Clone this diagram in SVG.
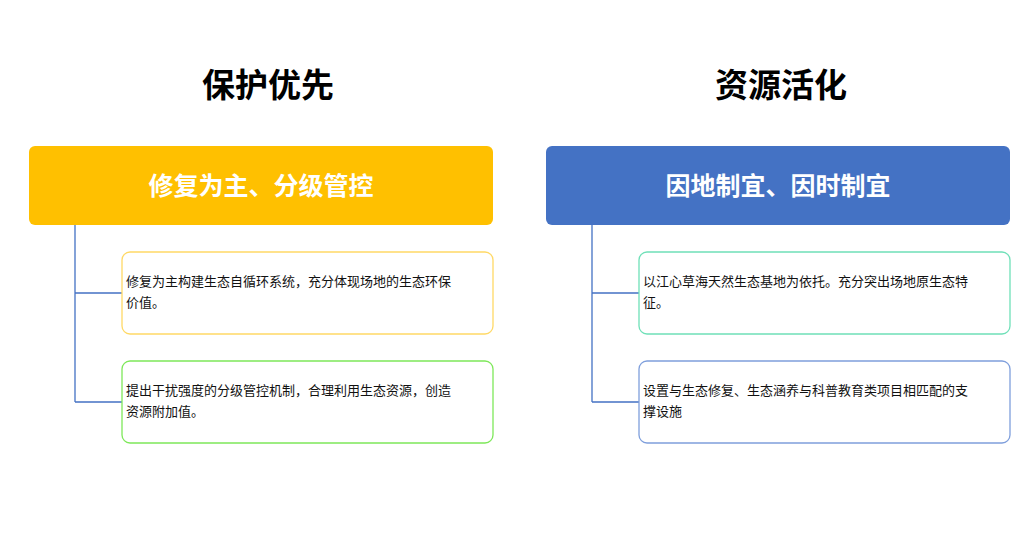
<svg xmlns="http://www.w3.org/2000/svg" width="1036" height="546" viewBox="0 0 1036 546">
<style>
text{font-family:"Noto Sans CJK SC","Noto Sans",sans-serif}
.t{font-size:33px;font-weight:bold;fill:#000;text-anchor:middle}
.h{font-size:25px;font-weight:bold;fill:#fff;text-anchor:middle}
.b{font-size:13px;fill:#111}
.c{fill:none;stroke:#4472c4;stroke-width:1.3}
.box{fill:#fff;stroke-width:1.3}
</style>
<rect width="1036" height="546" fill="#fff"/>
<text class="t" x="268" y="97">保护优先</text>
<text class="t" x="781" y="97">资源活化</text>
<g id="connectors">
<path class="c" d="M75 225V402M75 293H122M75 402H122"/>
<path class="c" d="M592 225V402M592 293H639M592 402H639"/>
</g>
<g id="h1"><rect x="29" y="146" width="464" height="79" rx="6" fill="#ffc000"/><text class="h" x="261" y="195">修复为主、分级管控</text></g>
<g id="h2"><rect x="546" y="146" width="464" height="79" rx="6" fill="#4472c4"/><text class="h" x="778" y="195">因地制宜、因时制宜</text></g>
<g id="n1"><rect class="box" x="122" y="252" width="371" height="82" rx="8" stroke="#ffd966"/><text class="b" x="126" y="286">修复为主构建生态自循环系统，充分体现场地的生态环保</text><text class="b" x="126" y="307">价值。</text></g>
<g id="n2"><rect class="box" x="122" y="361" width="371" height="82" rx="8" stroke="#7ee85a"/><text class="b" x="126" y="395">提出干扰强度的分级管控机制，合理利用生态资源，创造</text><text class="b" x="126" y="416">资源附加值。</text></g>
<g id="n3"><rect class="box" x="639" y="252" width="371" height="82" rx="8" stroke="#6fe0b8"/><text class="b" x="643" y="286">以江心草海天然生态基地为依托。充分突出场地原生态特</text><text class="b" x="643" y="307">征。</text></g>
<g id="n4"><rect class="box" x="639" y="361" width="371" height="82" rx="8" stroke="#7f9fdc"/><text class="b" x="643" y="395">设置与生态修复、生态涵养与科普教育类项目相匹配的支</text><text class="b" x="643" y="416">撑设施</text></g>
</svg>
